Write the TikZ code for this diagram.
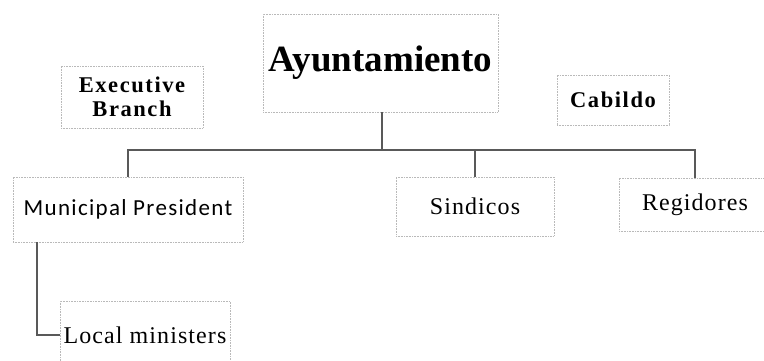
\documentclass[tikz,border=0pt]{standalone}
\usepackage{fontspec}
\setmainfont{Liberation Serif}
\newfontfamily\calib{Carlito}
\usetikzlibrary{calc}
\begin{document}
\begin{tikzpicture}[x=1pt,y=-1pt,
  box/.style={draw=gray!55,densely dotted,line width=0.6pt,inner sep=0pt,fill=white},
  conn/.style={draw=black!65,line width=1.8pt},
  headfont/.style={font=\bfseries\addfontfeature{LetterSpace=7}\fontsize{22.5}{24}\selectfont},
  serfont/.style={font=\addfontfeature{LetterSpace=4.5}\fontsize{24}{26}\selectfont},
  sansfont/.style={font=\calib\addfontfeature{LetterSpace=5.8}\fontsize{23}{26}\selectfont}]
\useasboundingbox (0,0) rectangle (764,361);
\clip (0,0) rectangle (764,361);
\fill[white] (0,0) rectangle (764,361);
\node[box,minimum width=235,minimum height=98,font=\bfseries\fontsize{37}{40}\selectfont] (ayu) at (380.5,63) {Ayuntamiento};
\node[box,minimum width=142,minimum height=62,headfont,align=center] (exe) at (132,97) {Executive\\Branch};
\node[box,minimum width=112,minimum height=50,headfont] (cab) at (613,100) {Cabildo};
\node[box,minimum width=230,minimum height=65,sansfont] (mp) at (128,209.5) {Municipal President};
\node[box,minimum width=158,minimum height=59,serfont] (sin) at (475,206.5) {Sindicos};
\node[box,minimum width=152,minimum height=53,serfont] (reg) at (695,204.5) {Regidores};
\node[box,minimum width=170,minimum height=68,serfont] (lm) at (145,335) {Local ministers};
\coordinate (bus) at (382,150);
\draw[conn] (ayu.south -| bus) -- (bus);
\draw[conn] (mp.north) |- (bus) -| (reg.north);
\draw[conn] (sin.north) -- (sin.north |- bus);
\draw[conn] ($(mp.south west)+(24,0)$) |- (lm.west);
\end{tikzpicture}
\end{document}
